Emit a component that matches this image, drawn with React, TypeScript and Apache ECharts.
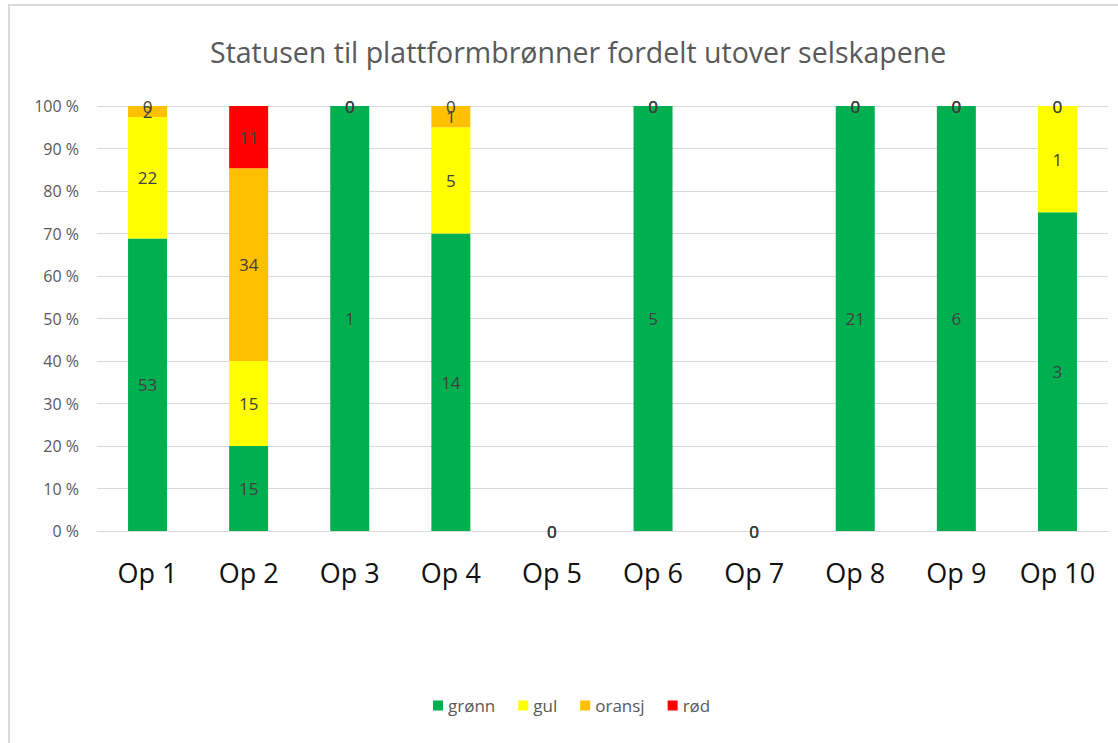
import React, { useEffect, useRef } from "react";
import * as echarts from "echarts";

const categories = ["Op 1", "Op 2", "Op 3", "Op 4", "Op 5", "Op 6", "Op 7", "Op 8", "Op 9", "Op 10"];
const gronn = [53, 15, 1, 14, 0, 5, 0, 21, 6, 3];
const gul = [22, 15, 0, 5, 0, 0, 0, 0, 0, 1];
const oransj = [2, 34, 0, 1, 0, 0, 0, 0, 0, 0];
const rod = [0, 11, 0, 0, 0, 0, 0, 0, 0, 0];
const yTicks = [0, 10, 20, 30, 40, 50, 60, 70, 80, 90, 100];

const seriesDefs = [
  { name: "grønn", data: gronn, color: "#00B050" },
  { name: "gul", data: gul, color: "#FFFF00" },
  { name: "oransj", data: oransj, color: "#FFC000" },
  { name: "rød", data: rod, color: "#FF0000" },
];

export default function App() {
  const ref = useRef<HTMLDivElement>(null);
  useEffect(() => {
    document.body.style.margin = "0";
    if (!ref.current) return;
    const chart = echarts.init(ref.current, null, { renderer: "svg" });
    const totals = categories.map((_, i) => seriesDefs.reduce((s, d) => s + d.data[i], 0));
    const font = "'Open Sans', 'Liberation Sans', sans-serif";
    chart.setOption({
      animation: false,
      backgroundColor: "#ffffff",
      title: {
        text: "Statusen til plattformbrønner fordelt utover selskapene",
        left: 205,
        top: 32,
        textStyle: { fontFamily: font, fontSize: 28.5, fontWeight: "normal", color: "#595959" },
      },
      graphic: [
        {
          type: "rect",
          shape: { x: 9, y: 5, width: 1130, height: 760 },
          style: { fill: "none", stroke: "#d9d9d9", lineWidth: 2 },
          silent: true,
        },
      ],
      legend: {
        bottom: 24,
        left: 428,
        icon: "rect",
        itemWidth: 10,
        itemHeight: 10,
        itemGap: 23,
        textStyle: { fontFamily: font, fontSize: 17, color: "#595959" },
        data: seriesDefs.map((d) => d.name),
      },
      grid: { left: 97, right: 10, top: 106, bottom: 212, containLabel: false },
      xAxis: {
        type: "category",
        data: categories,
        axisLine: { show: true, lineStyle: { color: "#d9d9d9" } },
        axisTick: { show: false },
        axisLabel: { margin: 28, fontFamily: font, fontSize: 27, color: "#111111" },
      },
      yAxis: {
        type: "value",
        min: yTicks[0],
        max: yTicks[yTicks.length - 1],
        interval: 10,
        axisLine: { show: false },
        axisTick: { show: false },
        splitLine: { lineStyle: { color: "#d9d9d9" } },
        axisLabel: {
          formatter: "{value} %",
          fontFamily: font,
          fontSize: 16,
          color: "#595959",
          margin: 18,
        },
      },
      series: seriesDefs.map((d) => ({
        name: d.name,
        type: "bar",
        stack: "total",
        barWidth: 39,
        itemStyle: { color: d.color },
        label: {
          show: true,
          position: "inside",
          fontFamily: font,
          fontSize: 17,
          color: "#404040",
          formatter: (p: any) => String(p.data.raw),
        },
        data: d.data.map((v, i) => ({
          value: totals[i] ? (v / totals[i]) * 100 : 0,
          raw: v,
        })),
      })),
    });
    return () => chart.dispose();
  }, []);
  return <div ref={ref} style={{ width: 1118, height: 743 }} />;
}
